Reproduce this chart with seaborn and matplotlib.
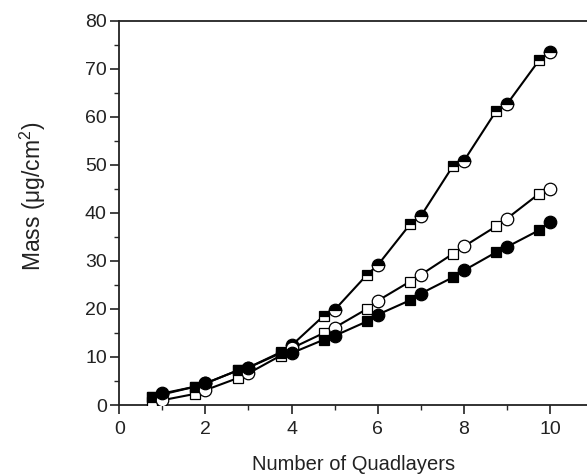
import matplotlib
matplotlib.use("Agg")
import matplotlib.pyplot as plt
import seaborn as sns
import numpy as np
import pandas as pd
from matplotlib.ticker import MultipleLocator

# Data
x_circle = [1, 2, 3, 4, 5, 6, 7, 8, 9, 10]
x_square = [0.75, 1.75, 2.75, 3.75, 4.75, 5.75, 6.75, 7.75, 8.75, 9.75]

half_circle = [2.2, 4.5, 7.8, 12.4, 19.8, 29.1, 39.3, 50.8, 62.6, 73.5]
half_square = [1.7, 3.8, 7.2, 11.0, 18.6, 27.1, 37.6, 49.8, 61.2, 71.8]

open_circle = [1.0, 3.1, 6.6, 11.8, 16.1, 21.7, 27.1, 33.0, 38.8, 45.0]
open_square = [0.7, 2.3, 5.6, 10.3, 15.0, 20.0, 25.7, 31.5, 37.2, 44.0]

fill_circle = [2.4, 4.5, 7.8, 10.8, 14.4, 18.8, 23.2, 28.0, 32.9, 38.1]
fill_square = [1.7, 3.8, 7.2, 10.8, 13.6, 17.4, 21.8, 26.6, 31.8, 36.4]

x_ticks = [0, 2, 4, 6, 8, 10]
y_ticks = [0, 10, 20, 30, 40, 50, 60, 70, 80]

sns.set_theme(style="ticks")
plt.rcParams['font.family'] = ['Liberation Sans', 'DejaVu Sans']
plt.rcParams['mathtext.fontset'] = 'custom'
plt.rcParams['mathtext.rm'] = 'Liberation Sans'
plt.rcParams['mathtext.it'] = 'Liberation Sans'

fig = plt.figure(figsize=(5.87, 4.76), dpi=100)
ax = fig.add_axes([119.3 / 587, 71 / 476, (587 - 119.3) / 587, (405 - 20.7) / 476])

series = [
    ("half", half_circle, half_square, dict(color="black", markerfacecolor="black",
                                             fillstyle="top", markerfacecoloralt="white")),
    ("open", open_circle, open_square, dict(color="black", markerfacecolor="white",
                                             fillstyle="full")),
    ("fill", fill_circle, fill_square, dict(color="black", markerfacecolor="black",
                                             fillstyle="full")),
]

for name, yc, ys, style in series:
    df = pd.DataFrame({"x": x_circle + x_square, "y": yc + ys}).sort_values("x")
    sns.lineplot(data=df, x="x", y="y", ax=ax, color="black", linewidth=1.5,
                 estimator=None, sort=True, zorder=2)
    sns.lineplot(x=x_square, y=ys, ax=ax, linestyle="", marker="s", markersize=7.5,
                 markeredgecolor="black", markeredgewidth=0.9, estimator=None,
                 zorder=3, **style)
    sns.lineplot(x=x_circle, y=yc, ax=ax, linestyle="", marker="o", markersize=9,
                 markeredgecolor="black", markeredgewidth=0.9, estimator=None,
                 zorder=4, **style)

ax.set_xlim(0, 10.86)
ax.set_ylim(0, 80)
ax.set_xticks(x_ticks)
ax.set_yticks(y_ticks)
ax.xaxis.set_minor_locator(MultipleLocator(1))
ax.yaxis.set_minor_locator(MultipleLocator(5))
ax.tick_params(which="major", direction="out", length=6.5, width=1.2, labelsize=14,
               colors="#222222", top=False, right=False)
ax.tick_params(axis="y", which="major", pad=2.5)
ax.tick_params(axis="x", which="major", pad=5)
ax.tick_params(which="minor", direction="out", length=3.5, width=1.0, top=False, right=False)
for s in ["left", "bottom", "top"]:
    ax.spines[s].set_linewidth(1.3)
    ax.spines[s].set_color("#222222")
ax.spines["right"].set_visible(False)

ax.set_xlabel("Number of Quadlayers", fontsize=14.5, labelpad=12, color="#222222")
ax.set_ylabel("Mass (\u03bcg/cm$^\\mathregular{2}$)", fontsize=16.5, color="#222222")
ax.yaxis.set_label_coords(-0.153, 0.543)
ax.grid(False)

fig.savefig("out.png", dpi=100)
